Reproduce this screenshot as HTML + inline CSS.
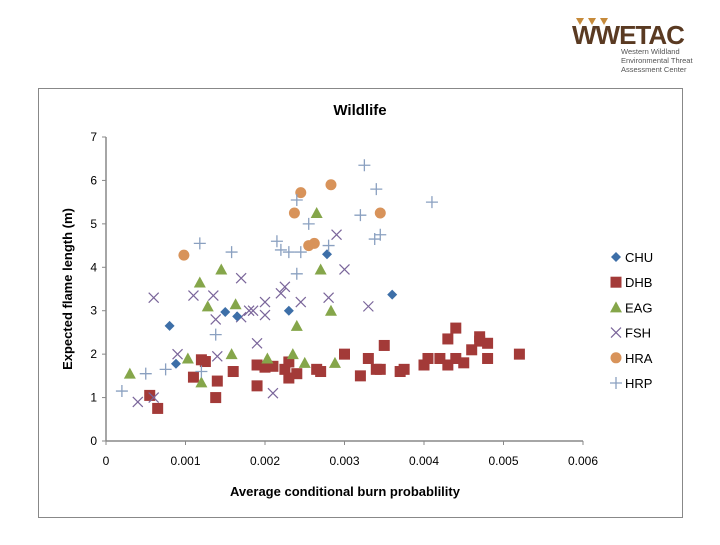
<!DOCTYPE html>
<html><head><meta charset="utf-8"><style>
body{margin:0;background:#fff;width:720px;height:540px;overflow:hidden;font-family:"Liberation Sans",sans-serif}
</style></head><body>
<svg width="720" height="540" font-family="Liberation Sans, sans-serif">
<g>
<text x="572" y="44" font-size="26" font-weight="bold" fill="#5a3a22" letter-spacing="-1">WWETAC</text>
<polygon points="576,18 584,18 580,25" fill="#c68a3a"/><polygon points="588,18 596,18 592,25" fill="#c68a3a"/><polygon points="600,18 608,18 604,25" fill="#c68a3a"/>
<text x="621" y="54" font-size="7.5" fill="#555">Western Wildland</text>
<text x="621" y="63" font-size="7.5" fill="#555">Environmental Threat</text>
<text x="621" y="72" font-size="7.5" fill="#555">Assessment Center</text>
</g>
<rect x="38.5" y="88.5" width="644" height="429" fill="#fff" stroke="#888"/>
<text x="360" y="115" font-size="15" font-weight="bold" text-anchor="middle">Wildlife</text>
<g id="axes"></g><g id="marks"></g><g id="legend"></g>
<text x="345" y="496" font-size="13" font-weight="bold" text-anchor="middle">Average conditional burn probablility</text>
<text transform="translate(72,289) rotate(-90)" font-size="13" font-weight="bold" text-anchor="middle">Expected flame length (m)</text>
</svg>
<script>
const xTicks=[0,0.001,0.002,0.003,0.004,0.005,0.006];
const xTickLabels=["0","0.001","0.002","0.003","0.004","0.005","0.006"];
const yTicks=[0,1,2,3,4,5,6,7];
const seriesNames=["CHU","DHB","EAG","FSH","HRA","HRP"];
const CHU=[[0.0008,2.65],[0.00088,1.78],[0.0015,2.97],[0.00165,2.87],[0.0023,3.0],[0.00278,4.3],[0.0036,3.37]];
const DHB=[[0.00055,1.05],[0.00065,0.75],[0.0011,1.47],[0.0012,1.87],[0.00125,1.83],[0.00138,1.0],[0.0014,1.38],[0.0016,1.6],[0.0019,1.27],[0.0019,1.75],[0.002,1.7],[0.0021,1.72],[0.00225,1.65],[0.0023,1.82],[0.0023,1.45],[0.0024,1.55],[0.00265,1.65],[0.0027,1.6],[0.003,2.0],[0.0032,1.5],[0.0033,1.9],[0.0034,1.65],[0.00345,1.65],[0.0035,2.2],[0.0037,1.6],[0.00375,1.65],[0.004,1.75],[0.00405,1.9],[0.0042,1.9],[0.0043,1.75],[0.0043,2.35],[0.0044,2.6],[0.0044,1.9],[0.0045,1.8],[0.0046,2.1],[0.0047,2.4],[0.0047,2.3],[0.0048,2.25],[0.0048,1.9],[0.0052,2.0]];
const EAG=[[0.0003,1.55],[0.00103,1.9],[0.00118,3.65],[0.0012,1.35],[0.00128,3.1],[0.00145,3.95],[0.00158,2.0],[0.00163,3.15],[0.00203,1.9],[0.0024,2.65],[0.00235,2.0],[0.0025,1.8],[0.00265,5.25],[0.0027,3.95],[0.00283,3.0],[0.00288,1.8]];
const FSH=[[0.0004,0.9],[0.0006,3.3],[0.0006,1.0],[0.0009,2.0],[0.0011,3.35],[0.00135,3.35],[0.00138,2.8],[0.0014,1.95],[0.0017,3.75],[0.0017,2.85],[0.0018,3.0],[0.00185,3.0],[0.0019,2.25],[0.002,3.2],[0.002,2.9],[0.0021,1.1],[0.0022,3.4],[0.00225,3.55],[0.00245,3.2],[0.0028,3.3],[0.0029,4.75],[0.003,3.95],[0.0033,3.1]];
const HRA=[[0.00098,4.28],[0.00237,5.25],[0.00245,5.72],[0.00255,4.5],[0.00262,4.55],[0.00283,5.9],[0.00345,5.25]];
const HRP=[[0.0002,1.15],[0.0005,1.55],[0.00075,1.65],[0.00118,4.55],[0.0012,1.6],[0.00138,2.45],[0.00158,4.35],[0.00215,4.6],[0.0022,4.4],[0.0024,5.55],[0.0024,3.85],[0.00245,4.35],[0.00255,5.0],[0.0028,4.5],[0.0032,5.2],[0.00325,6.35],[0.00338,4.65],[0.0034,5.8],[0.00345,4.75],[0.0041,5.5],[0.0023,4.35]];
const NS="http://www.w3.org/2000/svg";
const X0=106,X1=583,Y0=441,Y1=137;
const sx=v=>X0+(v/0.006)*(X1-X0), sy=v=>Y0-(v/7)*(Y0-Y1);
function mk(t,a,p){const e=document.createElementNS(NS,t);for(const k in a)e.setAttribute(k,a[k]);p.appendChild(e);return e;}
const ax=document.getElementById('axes');
const yl=mk('line',{x1:X0,y1:Y1,x2:X0,y2:Y0,stroke:'#888','stroke-width':1.5},ax);


const xl=mk('line',{x1:X0,y1:Y0,x2:X1,y2:Y0,stroke:'#888','stroke-width':1.5},ax);


yTicks.forEach(v=>{mk('line',{x1:X0-4,x2:X0,y1:sy(v),y2:sy(v),stroke:'#888'},ax);
const t=mk('text',{x:X0-9,y:sy(v)+4,'font-size':12,'text-anchor':'end'},ax);t.textContent=v;

});
xTicks.forEach((v,i)=>{mk('line',{x1:sx(v),x2:sx(v),y1:Y0,y2:Y0+4,stroke:'#888'},ax);
const t=mk('text',{x:sx(v),y:Y0+24,'font-size':12,'text-anchor':'middle'},ax);t.textContent=xTickLabels[i];

});
function marker(type,x,y,p){
 if(type==='CHU')return mk('polygon',{points:`${x},${y-5} ${x+5},${y} ${x},${y+5} ${x-5},${y}`,fill:'#3d6fa8'},p);
 if(type==='DHB')return mk('rect',{x:x-5.5,y:y-5.5,width:11,height:11,fill:'#a33a38'},p);
 if(type==='EAG')return mk('polygon',{points:`${x},${y-6} ${x+6},${y+5} ${x-6},${y+5}`,fill:'#85a64a'},p);
 if(type==='FSH')return mk('path',{d:`M${x-5},${y-5}L${x+5},${y+5}M${x+5},${y-5}L${x-5},${y+5}`,stroke:'#7a659a','stroke-width':1.2},p);
 if(type==='HRA')return mk('circle',{cx:x,cy:y,r:5.5,fill:'#d8935a'},p);
 return mk('path',{d:`M${x-6},${y}L${x+6},${y}M${x},${y-6}L${x},${y+6}`,stroke:'#8aa0c0','stroke-width':1.3},p);
}
const mg=document.getElementById('marks');
const data={CHU,DHB,EAG,FSH,HRA,HRP};
["DHB","EAG","FSH","CHU","HRA","HRP"].forEach(s=>{data[s].forEach(d=>{const m=marker(s,sx(d[0]),sy(d[1]),mg);

});});
const lg=document.getElementById('legend');
seriesNames.forEach((s,i)=>{const y=257+i*25.2;const g=mk('g',{},lg);


marker(s,616,y,g);const t=mk('text',{x:625,y:y+5,'font-size':13},g);t.textContent=s;});
</script>
</body></html>
